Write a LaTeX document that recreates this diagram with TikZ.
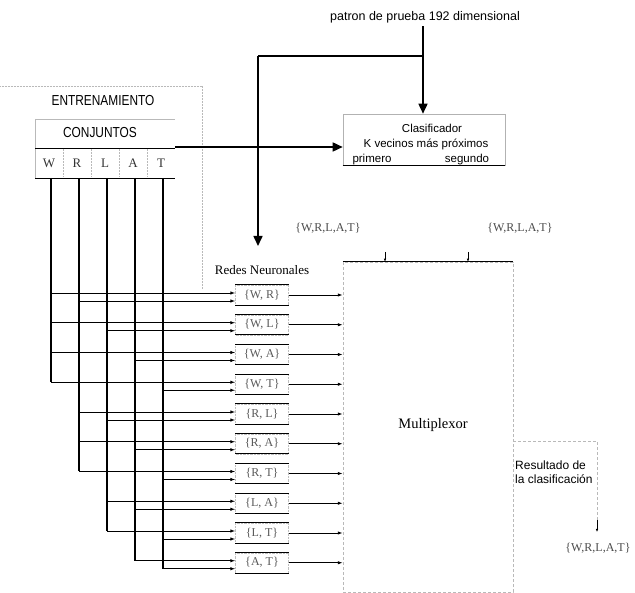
\documentclass[tikz,border=0pt]{standalone}
\usepackage{fontspec}
\setmainfont{Liberation Serif}
\newfontfamily\sansf{Liberation Sans}
\newfontfamily\narrowf[FakeStretch=0.82]{Liberation Sans}
\usetikzlibrary{arrows.meta}
\begin{document}
\begin{tikzpicture}[x=1pt,y=-1pt,
  thickline/.style={line width=1.6pt},
  colline/.style={line width=1.2pt},
  inarrow/.style={line width=0.9pt,-{Latex[length=5pt,width=3.5pt]}},
  outarrow/.style={line width=0.9pt,-{Latex[length=5pt,width=3.5pt]}},
  bigarrow/.style={line width=1.6pt,-{Triangle[length=10pt,width=9pt]}},
  smallarrow/.style={line width=0.6pt,-{Latex[length=3pt,width=2.5pt]}},
  pairbox/.style={draw=gray!50,densely dotted,minimum width=53pt,minimum height=20pt,inner sep=0pt,
     font=\fontsize{12}{12}\selectfont,text=gray!70!black},
  faint/.style={draw=gray!55,line width=0.5pt},
  settext/.style={font=\fontsize{12}{12}\selectfont,text=gray!60!black},
  lettertext/.style={font=\fontsize{13}{13}\selectfont,text=gray!40!black},
  sanstext/.style={font=\sansf\fontsize{11.5}{11.5}\selectfont}
]
\useasboundingbox (0,0) rectangle (635,593);

% ---------- training table ----------
\draw[faint,densely dotted] (0,86) -- (202,86);
\draw[faint,densely dotted] (202,86) -- (202,290);
\node[font=\narrowf\fontsize{14.5}{14.5}\selectfont] (entr) at (103,101) {ENTRENAMIENTO};
\node[font=\narrowf\fontsize{14.5}{14.5}\selectfont] (conj) at (100,133) {CONJUNTOS};
\draw[faint] (35,119) -- (175,119);
\draw[faint] (35,119) -- (35,178);
\draw[line width=0.8pt] (35,148) -- (175,148);
\draw[line width=0.8pt] (35,178) -- (175,178);
\foreach \xx in {63,91,119,147}{\draw[faint,densely dotted] (\xx,149) -- (\xx,177);}
\coordinate (tabR) at (175,147);
\node[lettertext] (cW) at (49,163) {W};
\node[lettertext] (cR) at (77,163) {R};
\node[lettertext] (cL) at (105,163) {L};
\node[lettertext] (cA) at (133,163) {A};
\node[lettertext] (cT) at (161,163) {T};
\coordinate (tW) at (51,178);
\coordinate (tR) at (79,178);
\coordinate (tL) at (107,178);
\coordinate (tA) at (135,178);
\coordinate (tT) at (163,178);

% ---------- top input ----------
\node[font=\sansf\fontsize{12.5}{12.5}\selectfont] (patron) at (425,17) {patron de prueba 192 dimensional};
\coordinate (jn) at (423,56);
\coordinate (jl) at (258,56);

% ---------- classifier ----------
\node[draw=gray!60,line width=0.6pt,minimum width=162pt,minimum height=51pt,inner sep=0pt] (clas) at (424,139.5) {};
\draw[line width=0.8pt] (clas.south west) -- (clas.south east);
\node[sanstext] (clt) at (432,128) {Clasificador};
\node[sanstext] (clk) at (426,144) {K vecinos más próximos};
\node[sanstext] (clp) at (372,160) {primero};
\node[sanstext] (cls) at (467,160) {segundo};

\draw[thickline] (patron.south -| jn) -- (jn);
\draw[bigarrow] (jn) -- (jn |- clas.north);
\draw[thickline] (jn) -- (jl);
\coordinate (rnTip) at (258,246);
\draw[bigarrow] (jl) -- (rnTip);
\draw[bigarrow] (tabR) -- (tabR -| clas.west);

% ---------- neural networks ----------
\node[font=\fontsize{13}{13}\selectfont] (rn) at (262,270) {Redes Neuronales};

\foreach \k/\lab in {1/{\{W, R\}},2/{\{W, L\}},3/{\{W, A\}},4/{\{W, T\}},5/{\{R, L\}},6/{\{R, A\}},7/{\{R, T\}},8/{\{L, A\}},9/{\{L, T\}},10/{\{A, T\}}}{
  \pgfmathsetmacro{\yy}{295+29.75*(\k-1)}
  \node[pairbox] (p\k) at (262,\yy) {\lab};
  \draw[line width=0.9pt] (p\k.north west) -- (p\k.north east);
  \draw[line width=0.9pt] (p\k.south west) -- (p\k.south east);
  \coordinate (u\k) at ([yshift=2pt]p\k.west);
  \coordinate (l\k) at ([yshift=-6pt]p\k.west);
}

% ---------- multiplexer ----------
\node[draw=gray!55,line width=0.5pt,densely dashed,minimum width=170pt,minimum height=330pt,inner sep=0pt] (mux) at (428,427) {};
\draw[line width=0.9pt] (mux.north west) -- (mux.north east);
\node[font=\fontsize{14.5}{14.5}\selectfont] (muxt) at (433,425) {Multiplexor};

\foreach \k in {1,...,10}{
  \draw[outarrow] (p\k.east) -- (p\k.east -| mux.west);
}

% column lines
\draw[colline] (tW) -- (tW |- u4);
\draw[colline] (tR) -- (tR |- u7);
\draw[colline] (tL) -- (tL |- u9);
\draw[colline] (tA) -- (tA |- u10);
\draw[colline] (tT) -- (tT |- l10);

% inputs: first letter upper, second letter lower
\foreach \k/\a/\b in {1/W/R,2/W/L,3/W/A,4/W/T,5/R/L,6/R/A,7/R/T,8/L/A,9/L/T,10/A/T}{
  \draw[inarrow] (t\a |- u\k) -- (u\k);
  \draw[inarrow] (t\b |- l\k) -- (l\k);
}

% set labels and small arrows on multiplexer
\node[settext] (s1) at (328,228) {\{W,R,L,A,T\}};
\node[settext] (s2) at (520,228) {\{W,R,L,A,T\}};
\coordinate (m1) at (385,252);
\coordinate (m2) at (468,252);
\draw[smallarrow] (m1) -- (m1 |- mux.north);
\draw[smallarrow] (m2) -- (m2 |- mux.north);

% ---------- output ----------
\coordinate (o1) at (mux.east |- 0,441);
\coordinate (o2) at (597,441);
\coordinate (o3) at (597,532);
\draw[faint,densely dashed] (o1) -- (o2) -- ([yshift=12pt]o3);
\draw[smallarrow] ([yshift=12pt]o3) -- (o3);
\node[font=\sansf\fontsize{12}{14}\selectfont,align=left,anchor=north west,inner sep=0pt] (res) at (515,461) {Resultado de\\la clasificación};
\node[settext] (s3) at (598,548) {\{W,R,L,A,T\}};
\end{tikzpicture}
\end{document}
